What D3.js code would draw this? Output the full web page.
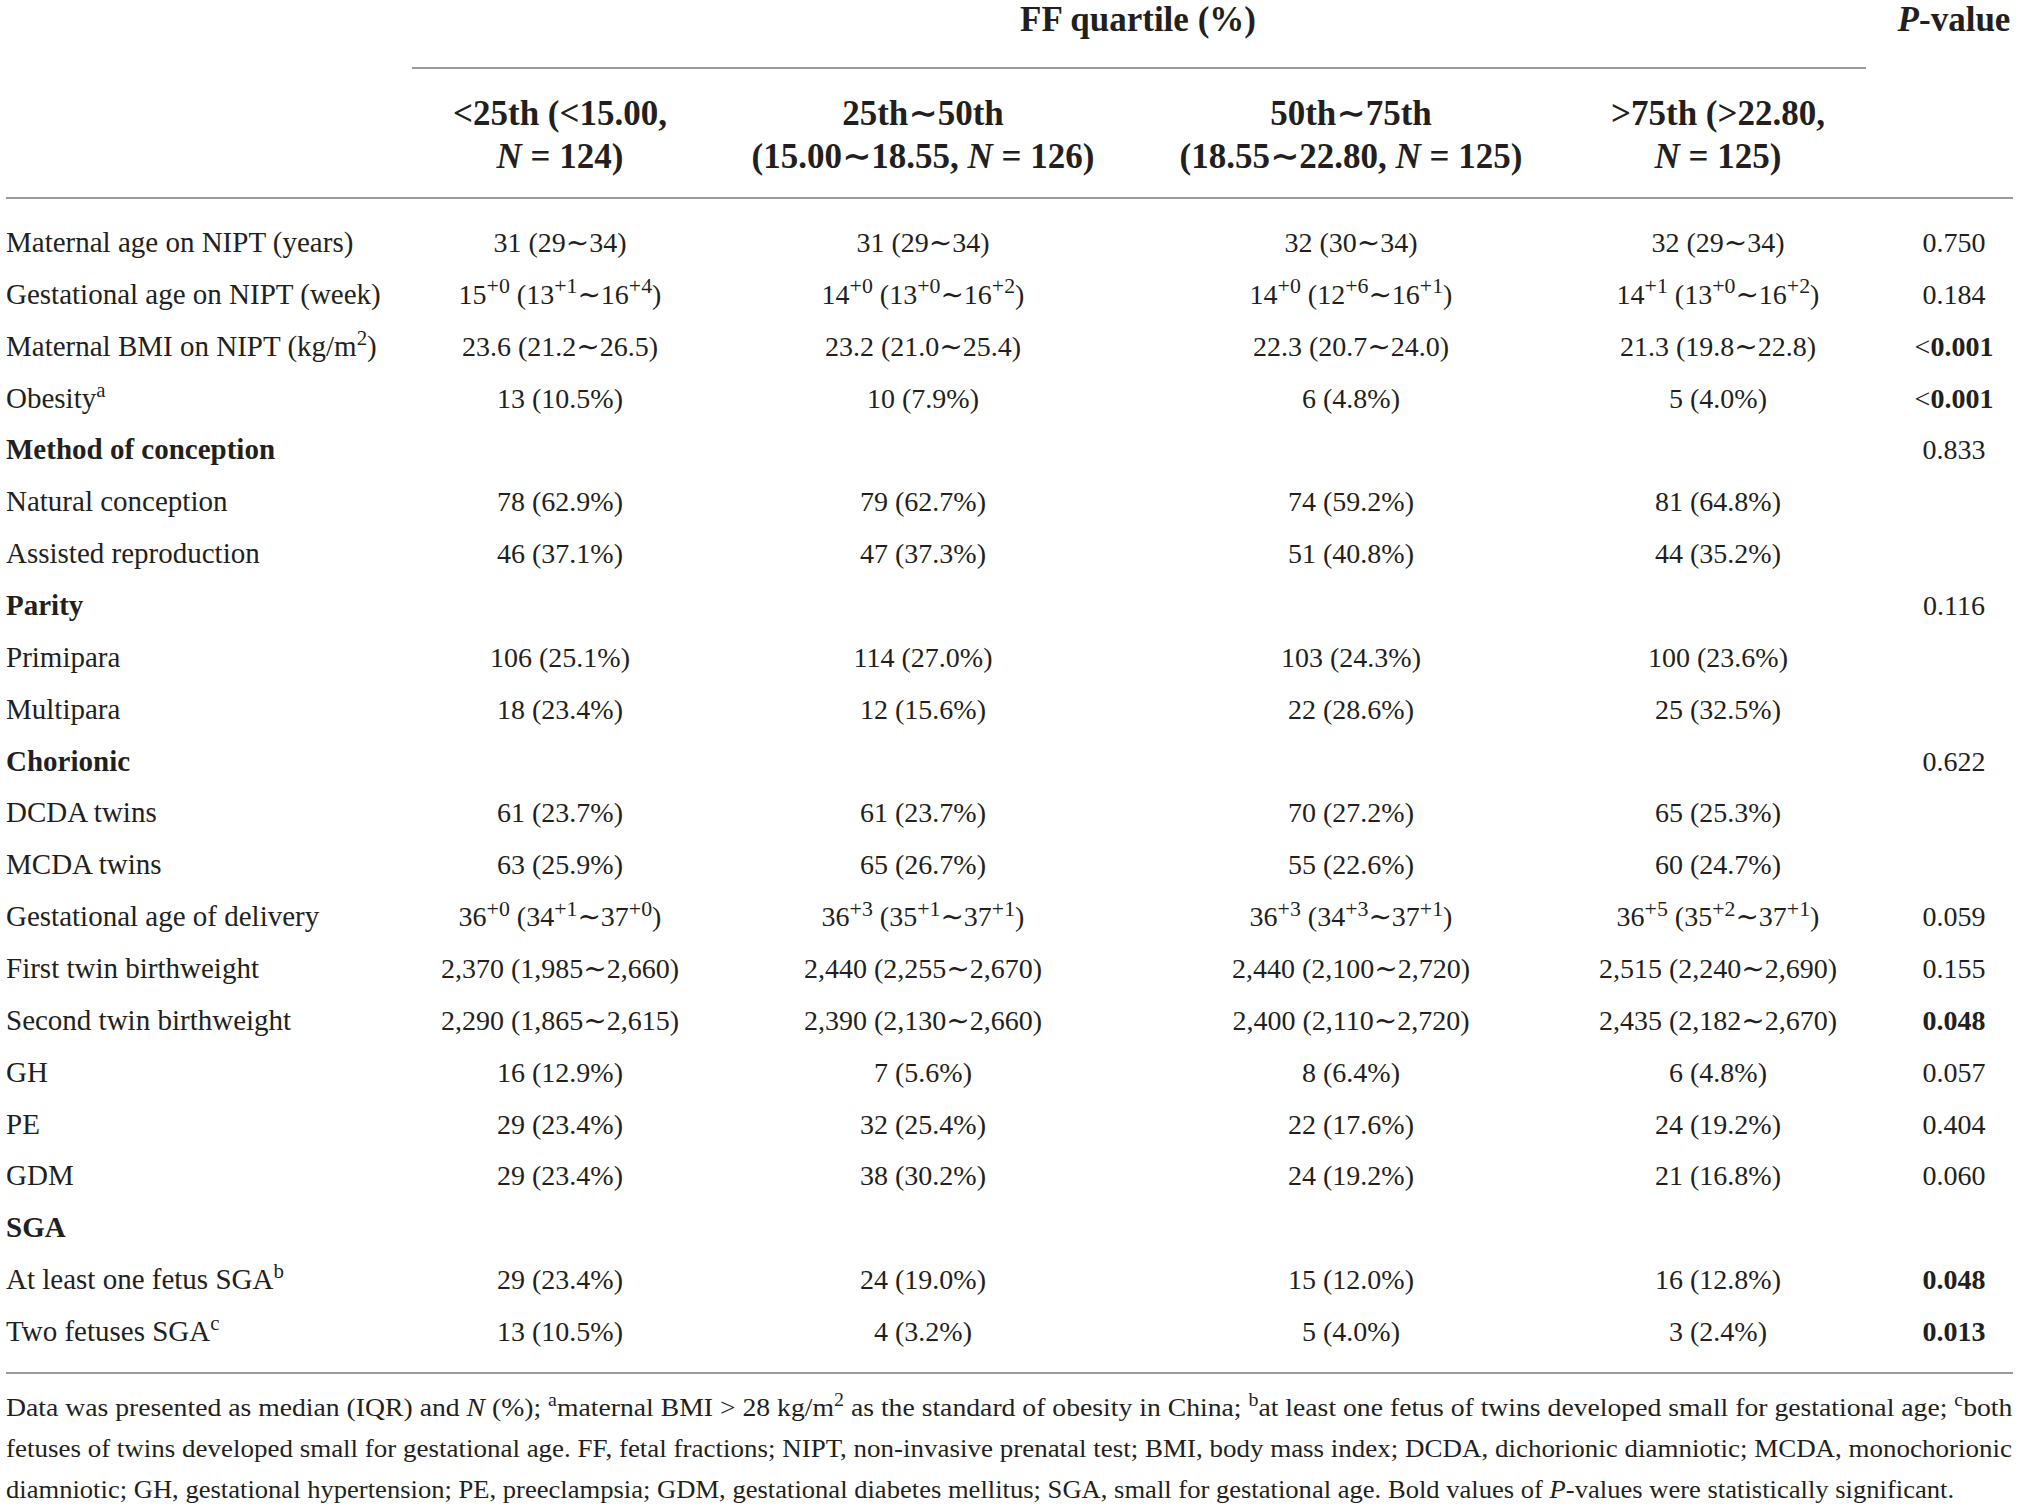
<!DOCTYPE html>
<html>
<head>
<meta charset="utf-8">
<script src="https://cdnjs.cloudflare.com/ajax/libs/d3/7.8.5/d3.min.js"></script>
<style>
  body { margin: 0; background: #fff; }
  text { font-family: "Liberation Serif", "DejaVu Serif", serif; fill: #231f20; }
</style>
</head>
<body>
<div id="table"></div>
<script>
// markup: ^{..} superscript, _{..} italic, !{..} bold
const rowLabels = [
  "Maternal age on NIPT (years)",
  "Gestational age on NIPT (week)",
  "Maternal BMI on NIPT (kg/m^{2})",
  "Obesity^{a}",
  "Method of conception",
  "Natural conception",
  "Assisted reproduction",
  "Parity",
  "Primipara",
  "Multipara",
  "Chorionic",
  "DCDA twins",
  "MCDA twins",
  "Gestational age of delivery",
  "First twin birthweight",
  "Second twin birthweight",
  "GH",
  "PE",
  "GDM",
  "SGA",
  "At least one fetus SGA^{b}",
  "Two fetuses SGA^{c}"
];
const sectionRows = ["Method of conception", "Parity", "Chorionic", "SGA"];

const q1 = ["31 (29∼34)", "15^{+0} (13^{+1}∼16^{+4})", "23.6 (21.2∼26.5)", "13 (10.5%)", "",
  "78 (62.9%)", "46 (37.1%)", "", "106 (25.1%)", "18 (23.4%)", "", "61 (23.7%)", "63 (25.9%)",
  "36^{+0} (34^{+1}∼37^{+0})", "2,370 (1,985∼2,660)", "2,290 (1,865∼2,615)", "16 (12.9%)",
  "29 (23.4%)", "29 (23.4%)", "", "29 (23.4%)", "13 (10.5%)"];
const q2 = ["31 (29∼34)", "14^{+0} (13^{+0}∼16^{+2})", "23.2 (21.0∼25.4)", "10 (7.9%)", "",
  "79 (62.7%)", "47 (37.3%)", "", "114 (27.0%)", "12 (15.6%)", "", "61 (23.7%)", "65 (26.7%)",
  "36^{+3} (35^{+1}∼37^{+1})", "2,440 (2,255∼2,670)", "2,390 (2,130∼2,660)", "7 (5.6%)",
  "32 (25.4%)", "38 (30.2%)", "", "24 (19.0%)", "4 (3.2%)"];
const q3 = ["32 (30∼34)", "14^{+0} (12^{+6}∼16^{+1})", "22.3 (20.7∼24.0)", "6 (4.8%)", "",
  "74 (59.2%)", "51 (40.8%)", "", "103 (24.3%)", "22 (28.6%)", "", "70 (27.2%)", "55 (22.6%)",
  "36^{+3} (34^{+3}∼37^{+1})", "2,440 (2,100∼2,720)", "2,400 (2,110∼2,720)", "8 (6.4%)",
  "22 (17.6%)", "24 (19.2%)", "", "15 (12.0%)", "5 (4.0%)"];
const q4 = ["32 (29∼34)", "14^{+1} (13^{+0}∼16^{+2})", "21.3 (19.8∼22.8)", "5 (4.0%)", "",
  "81 (64.8%)", "44 (35.2%)", "", "100 (23.6%)", "25 (32.5%)", "", "65 (25.3%)", "60 (24.7%)",
  "36^{+5} (35^{+2}∼37^{+1})", "2,515 (2,240∼2,690)", "2,435 (2,182∼2,670)", "6 (4.8%)",
  "24 (19.2%)", "21 (16.8%)", "", "16 (12.8%)", "3 (2.4%)"];
const pValues = ["0.750", "0.184", "<!{0.001}", "<!{0.001}", "0.833", "", "", "0.116", "", "",
  "0.622", "", "", "0.059", "0.155", "!{0.048}", "0.057", "0.404", "0.060", "", "!{0.048}", "!{0.013}"];

const groupTitle = "FF quartile (%)";
const pTitle = "_{P}-value";
const quartileHeaders = [
  ["<25th (<15.00,", "_{N} = 124)"],
  ["25th∼50th", "(15.00∼18.55, _{N} = 126)"],
  ["50th∼75th", "(18.55∼22.80, _{N} = 125)"],
  [">75th (>22.80,", "_{N} = 125)"]
];
const footnotes = [
  "Data was presented as median (IQR) and _{N} (%); ^{a}maternal BMI > 28 kg/m^{2} as the standard of obesity in China; ^{b}at least one fetus of twins developed small for gestational age; ^{c}both",
  "fetuses of twins developed small for gestational age. FF, fetal fractions; NIPT, non-invasive prenatal test; BMI, body mass index; DCDA, dichorionic diamniotic; MCDA, monochorionic",
  "diamniotic; GH, gestational hypertension; PE, preeclampsia; GDM, gestational diabetes mellitus; SGA, small for gestational age. Bold values of _{P}-values were statistically significant."
];
// right edge of each footnote line (justified lines run to the table edge)
const footnoteEnds = [2013, 2013, 1955];

const width = 2019, height = 1507;
const svg = d3.select("#table").append("svg").attr("width", width).attr("height", height);

const cols = ["q1", "q2", "q3", "q4", "p"];
const colX = d3.scaleOrdinal().domain(cols).range([560, 923, 1351, 1718, 1954]);
const rowY = d3.scalePoint().domain(d3.range(rowLabels.length)).range([252, 1341]);

const fs = 28, labelFs = 29, headFs = 35;

const rich = (sel, str, size, supScale = 0.72) => {
  const re = /([\^_!])\{([^}]*)\}/g;
  const parts = [];
  let last = 0, m;
  while ((m = re.exec(str))) {
    if (m.index > last) parts.push({ t: str.slice(last, m.index) });
    parts.push({ t: m[2], k: m[1] });
    last = re.lastIndex;
  }
  if (last < str.length) parts.push({ t: str.slice(last) });
  let up = false;
  parts.forEach(p => {
    const ts = sel.append("tspan").text(p.t);
    if (p.k === "^") {
      ts.attr("font-size", size * supScale).attr("dy", up ? 0 : -size * 0.38);
      up = true;
    } else {
      if (up) { ts.attr("dy", size * 0.38); up = false; }
      if (p.k === "_") ts.attr("font-style", "italic");
      if (p.k === "!") ts.attr("font-weight", "bold");
    }
  });
};

const rule = (x1, x2, y) => svg.append("line").attr("x1", x1).attr("x2", x2).attr("y1", y).attr("y2", y)
  .attr("stroke", "#9a9a9a").attr("stroke-width", 2);

// header
svg.append("text").attr("x", 1138).attr("y", 31).attr("text-anchor", "middle")
  .attr("font-size", headFs).attr("font-weight", "bold").text(groupTitle);
svg.append("text").attr("x", colX("p")).attr("y", 31).attr("text-anchor", "middle")
  .attr("font-size", headFs).attr("font-weight", "bold").call(rich, pTitle, headFs);
rule(412, 1866, 68);

quartileHeaders.forEach((lines, i) => {
  lines.forEach((ln, j) => {
    svg.append("text").attr("x", colX(cols[i])).attr("y", 125 + j * 43).attr("text-anchor", "middle")
      .attr("font-size", headFs).attr("font-weight", "bold").call(rich, ln, headFs);
  });
});
rule(6, 2013, 198);

// body
const series = [q1, q2, q3, q4, pValues];
rowLabels.forEach((lab, i) => {
  const y = rowY(i);
  svg.append("text").attr("x", 6).attr("y", y).attr("font-size", labelFs)
    .attr("font-weight", sectionRows.includes(lab) ? "bold" : null).call(rich, lab, labelFs);
  series.forEach((s, c) => {
    if (!s[i]) return;
    svg.append("text").attr("x", colX(cols[c])).attr("y", y).attr("text-anchor", "middle")
      .attr("font-size", fs).call(rich, s[i], fs, 0.78);
  });
});
rule(6, 2013, 1373);

// footnote, each line squeezed to its width
const fnSize = 25;
footnotes.forEach((f, i) => {
  const g = svg.append("g");
  const t = g.append("text").attr("x", 0).attr("y", 1416 + i * 41)
    .attr("font-size", fnSize).call(rich, f, fnSize);
  const natural = t.node().getComputedTextLength();
  const sx = (footnoteEnds[i] - 6) / natural;
  g.attr("transform", `translate(6,0) scale(${sx},1)`);
});
</script>
</body>
</html>
